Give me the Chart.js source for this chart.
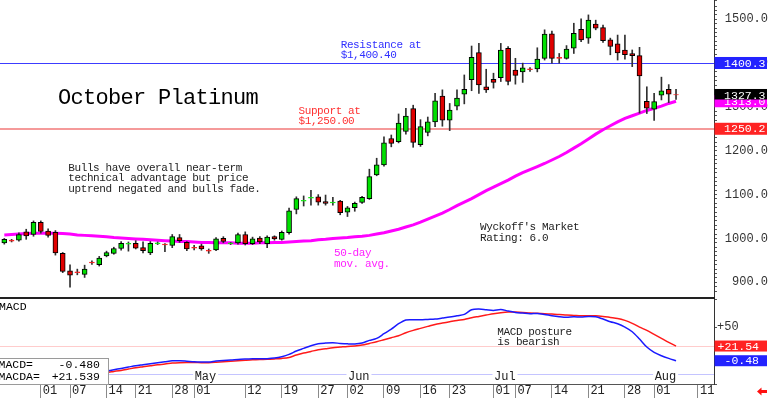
<!DOCTYPE html>
<html><head><meta charset="utf-8">
<script src="https://cdn.jsdelivr.net/npm/chart.js@4.4.1/dist/chart.umd.min.js"></script>
<style>
html,body{margin:0;padding:0;background:#fff;overflow:hidden;}
#wrap{position:relative;width:768px;height:398px;background:#fff;}
canvas{position:absolute;left:0;}
#cA{top:0;} #cB{top:297px;}
</style></head><body>
<div id="wrap"><canvas id="cA" width="768" height="297"></canvas><canvas id="cB" width="768" height="101"></canvas></div>
<script>
// ---------- DATA ----------
const dates = ['03-25','03-26','03-27','03-28','03-31','04-01','04-02','04-03','04-04','04-07','04-08','04-09','04-10','04-11','04-14','04-15','04-16','04-17','04-21','04-22','04-23','04-24','04-25','04-28','04-29','04-30','05-01','05-02','05-05','05-06','05-07','05-08','05-09','05-12','05-13','05-14','05-15','05-16','05-19','05-20','05-21','05-22','05-23','05-27','05-28','05-29','05-30','06-02','06-03','06-04','06-05','06-06','06-09','06-10','06-11','06-12','06-13','06-16','06-17','06-18','06-20','06-23','06-24','06-25','06-26','06-27','06-30','07-01','07-02','07-03','07-07','07-08','07-09','07-10','07-11','07-14','07-15','07-16','07-17','07-18','07-21','07-22','07-23','07-24','07-25','07-28','07-29','07-30','07-31','08-01','08-04','08-05','08-06','08-07','08-08','08-11','08-12'];
const opens  = [990,996,996,1015,1009,1037,1017,1014,966,926,924,918,946,940,960,966,977,987,989,979,967,988,987,984,1002,991,980,983,973,974,1000,988,990,1009,988,1001,988,1004,998,1013,1066,1085,1092,1095,1084,1081,1085,1060,1070,1082,1091,1145,1168,1228,1221,1244,1296,1214,1242,1266,1325,1270,1302,1329,1362,1424,1346,1363,1367,1434,1384,1380,1387,1387,1411,1467,1413,1411,1434,1477,1457,1489,1481,1453,1444,1430,1422,1417,1313,1295,1327,1340,1328];
const highs  = [1000,998,1013,1021,1040,1040,1022,1018,968,940,930,939,949,959,971,980,993,992,995,992,993,992,988,1009,1009,993,984,987,976,1002,1004,991,1012,1015,1003,1004,1006,1006,1017,1069,1095,1097,1110,1100,1099,1094,1087,1073,1083,1096,1158,1183,1232,1236,1284,1297,1304,1271,1277,1331,1339,1308,1339,1373,1439,1445,1386,1377,1445,1438,1411,1400,1390,1435,1476,1473,1422,1440,1491,1501,1510,1498,1487,1457,1464,1464,1430,1436,1346,1331,1368,1351,1340];
const lows   = [987,992,994,998,1005,1012,1003,962,922,889,917,911,941,937,958,964,973,971,976,967,963,986,970,979,991,972,974,973,966,972,990,986,987,985,986,988,979,996,996,1010,1056,1074,1076,1076,1076,1076,1054,1050,1062,1080,1089,1143,1165,1209,1218,1238,1208,1210,1234,1255,1256,1246,1293,1307,1337,1331,1333,1343,1358,1350,1352,1356,1381,1380,1407,1400,1400,1409,1422,1449,1445,1476,1447,1419,1407,1409,1392,1286,1285,1269,1316,1310,1317];
const closes = [998,994,1009,1006,1037,1016,1007,967,925,916,922,930,944,955,968,977,989,989,978,972,989,990,985,1004,995,976,978,976,971,999,993,990,1009,988,999,992,1003,999,1014,1063,1091,1087,1094,1083,1080,1083,1059,1070,1080,1094,1141,1168,1218,1217,1263,1279,1219,1255,1266,1314,1270,1293,1320,1340,1413,1350,1339,1356,1430,1358,1372,1389,1385,1409,1466,1411,1411,1432,1468,1453,1498,1480,1451,1438,1423,1419,1417,1371,1297,1312,1337,1329,1327.3];
const ma50   = [1008,1009,1010,1011,1012,1012,1012,1012,1011,1010,1008,1007,1006,1005,1004,1002,1001,1000,999,998,997,996,995,994,993,993,992,991,991,990,990,990,989,989,989,990,990,991,991,992,993,994,995,997,998,1000,1001,1002,1004,1005,1007,1010,1013,1017,1021,1026,1031,1037,1044,1051,1058,1066,1075,1083,1091,1100,1109,1117,1125,1133,1142,1150,1157,1164,1171,1179,1187,1196,1206,1216,1227,1238,1248,1257,1266,1274,1280,1286,1292,1297,1302,1308,1313];
const macdStart = 13;
const macd   = [-18,-16,-14,-12,-10,-8,-6.5,-5,-3.5,-2,-0.5,-0.5,-1.2,-2,-2.4,-2.5,-1,0,0.5,1.5,2,2.3,2.5,2.6,3.5,5.6,9,14,18,22,25,26,26.5,25.5,24.8,24.6,26,30,33,40,47,55,60.6,61,61,61.5,62,63.5,65,67,69,76,77,76,75,76.5,74,72,71,70,70.5,69,67,65.5,64.6,65.5,65,66,65.5,62,58,55,50,43,32,20,12,7,3,-0.48];
const signal = [-20,-18,-16.5,-15,-13,-11,-9.5,-8,-6.5,-5.5,-4,-3.4,-3.2,-3.2,-3.4,-3.4,-2.8,-2,-1.2,-0.5,0.3,1,1.4,1.6,2.2,3,4.5,8,11,13.5,16,17.5,19,20,21,21.6,23,25.5,28,31,34,37,41.5,45,48,51,54,56,58,60,61.5,64,66,68,70,71.5,72.5,72.5,72,71,70.6,70,69.5,69,68,67.5,67,67,67,66,64.5,63,60,55.6,50,45,39,33,27,21.539];
const tickDates  = ['04-01','04-07','04-14','04-21','04-28','05-01','05-12','05-19','05-27','06-02','06-09','06-16','06-23','07-01','07-07','07-14','07-21','07-28','08-01','08-11'];
const tickLabels = ['01','07','14','21','28','01','12','19','27','02','09','16','23','01','07','14','21','28','01','11'];
const monthDates  = ['05-01','06-02','07-01','08-01'];
const monthLabels = ['May','Jun','Jul','Aug'];
const resistance = 1400.40, support = 1250.00;
const resistanceTag = 1400.3, supportTag = 1250.2;

// ---------- helpers ----------
const mono = '"Liberation Mono","DejaVu Sans Mono",monospace';
const tickIdx = tickDates.map(d => dates.indexOf(d));
const labelFor = {}; tickIdx.forEach((v, k) => { labelFor[v] = tickLabels[k]; });
const monthIdx = monthDates.map(d => dates.indexOf(d));
const X_MIN = -0.59, X_MAX = 97.2;
const upCol = '#00e000', dnCol = '#e00000';
const bodyFill = opens.map((o, i) => closes[i] >= o ? upCol : dnCol);
const bodyBorder = opens.map((o, i) => Math.abs(closes[i] - o) <= 3 ? (closes[i] >= o ? '#10f010' : '#ff2020') : '#000');
const dojiFill = opens.map((o, i) => Math.abs(closes[i] - o) <= 3 ? (closes[i] >= o ? '#10f010' : '#ff2020') : bodyFill[i]);

function txt(ctx, s, x, y, size, color, ls, align, base) {
  ctx.save();
  ctx.font = size + 'px ' + mono;
  ctx.fillStyle = color;
  ctx.textAlign = align || 'left';
  ctx.textBaseline = base || 'alphabetic';
  if ('letterSpacing' in ctx) ctx.letterSpacing = (ls || 0) + 'px';
  ctx.fillText(s, x, y);
  ctx.restore();
}
function hline(ctx, y, x0, x1, color, w) {
  ctx.save(); ctx.strokeStyle = color; ctx.lineWidth = w;
  ctx.beginPath(); ctx.moveTo(x0, y); ctx.lineTo(x1, y); ctx.stroke(); ctx.restore();
}
function tag(ctx, py, s, bg, up, down, textRight) {
  ctx.save();
  ctx.fillStyle = bg;
  ctx.fillRect(714.5, py - up, 52.5, up + down);
  ctx.restore();
  txt(ctx, s, textRight, py + 0.5, 11.5, '#fff', 0, 'right', 'middle');
}

// ---------- price panel ----------
const annA = {
  id: 'annA',
  beforeDatasetsDraw(chart) {
    const ctx = chart.ctx, y = chart.scales.y, a = chart.chartArea;
    hline(ctx, Math.round(y.getPixelForValue(resistance)) + 0.5, a.left, a.right, '#3c3cff', 1);
    hline(ctx, Math.round(y.getPixelForValue(support)), a.left, a.right, '#f59a9a', 2);
  },
  afterDatasetsDraw(chart) {
    const ctx = chart.ctx;
    txt(ctx, 'October Platinum', 58, 104, 22, '#000', -0.7);
    txt(ctx, 'Resistance at', 340.7, 48.3, 11, '#3030ff', -0.4);
    txt(ctx, '$1,400.40', 340.7, 58.3, 11, '#3030ff', -0.4);
    txt(ctx, 'Support at', 298.5, 114, 11, '#ff3030', -0.4);
    txt(ctx, '$1,250.00', 298.5, 124, 11, '#ff3030', -0.4);
    txt(ctx, 'Bulls have overall near-term', 68.3, 170.7, 11, '#222', -0.4);
    txt(ctx, 'technical advantage but price', 68.3, 181.2, 11, '#222', -0.4);
    txt(ctx, 'uptrend negated and bulls fade.', 68.3, 191.7, 11, '#222', -0.4);
    txt(ctx, "Wyckoff's Market", 480, 230, 11, '#222', -0.4);
    txt(ctx, 'Rating: 6.0', 480, 240.5, 11, '#222', -0.4);
    txt(ctx, '50-day', 334, 256, 11, '#ff20ff', -0.4);
    txt(ctx, 'mov. avg.', 334, 266.5, 11, '#ff20ff', -0.4);
  },
  afterDraw(chart) {
    const ctx = chart.ctx, y = chart.scales.y;
    const last = closes.length - 1;
    tag(ctx, y.getPixelForValue(resistanceTag), resistanceTag.toFixed(1), '#2323ff', 6, 6, 765.5);
    tag(ctx, y.getPixelForValue(supportTag), supportTag.toFixed(1), '#ff2323', 6, 6, 765.5);
    tag(ctx, y.getPixelForValue(ma50[last]), ma50[last].toFixed(1), '#ff00ff', 6, 6, 765.5);
    tag(ctx, y.getPixelForValue(closes[last]), closes[last].toFixed(1), '#000', 6, 4.5, 765.5);
  }
};

new Chart(document.getElementById('cA'), {
  type: 'bar',
  data: { datasets: [
    { type: 'line', label: 'MA50', data: ma50.map((v, i) => ({ x: i, y: v })), borderColor: '#ff00ff', borderWidth: 3, pointRadius: 0, tension: 0, order: 3 },
    { label: 'wick', data: highs.map((h, i) => ({ x: i, y: [lows[i], h] })), backgroundColor: '#303030', barThickness: 1, grouped: false, order: 2 },
    { label: 'body', data: opens.map((o, i) => ({ x: i, y: [o, closes[i]] })), backgroundColor: dojiFill, borderColor: bodyBorder, borderWidth: 1, borderSkipped: false, barThickness: 5, grouped: false, order: 1 }
  ]},
  options: {
    responsive: false, animation: false, devicePixelRatio: 1, events: [],
    layout: { padding: 0 },
    plugins: { legend: { display: false }, tooltip: { enabled: false } },
    scales: {
      x: { type: 'linear', min: X_MIN, max: X_MAX, display: false, offset: false },
      y: { type: 'linear', position: 'right', min: 866.4, max: 1544,
        ticks: { stepSize: 10, autoSkip: false, crossAlign: 'far', padding: 6, color: '#333', font: { family: mono, size: 12 },
          callback: v => (Math.abs(v % 100) < 0.01 ? v.toFixed(1) : '') },
        grid: { drawOnChartArea: false, tickLength: 3, color: '#555' },
        border: { display: true, color: '#333' },
        afterFit: s => { s.width = 54; s.paddingTop = 0; s.paddingBottom = 0; }
      }
    }
  },
  plugins: [annA]
});

// ---------- MACD panel ----------
const annB = {
  id: 'annB',
  beforeDatasetsDraw(chart) {
    const ctx = chart.ctx, y = chart.scales.y, a = chart.chartArea;
    hline(ctx, Math.round(y.getPixelForValue(signal[signal.length - 1])) + 0.5, a.left, a.right, '#ffcccc', 1);
    hline(ctx, 77.5, 108, a.right, '#c4c4ff', 1);
  },
  afterDatasetsDraw(chart) {
    const ctx = chart.ctx, x = chart.scales.x;
    monthIdx.forEach((mi, k) => {
      const px = x.getPixelForValue(mi);
      ctx.save(); ctx.fillStyle = '#fff'; ctx.fillRect(px - 1, 71, 25, 13); ctx.restore();
      txt(ctx, monthLabels[k], px + 0.5, 83, 12, '#222', 0);
    });
    // legend box
    ctx.save(); ctx.fillStyle = '#fff'; ctx.fillRect(-1, 61, 109.5, 26);
    ctx.strokeStyle = '#9a9a9a'; ctx.lineWidth = 1; ctx.strokeRect(-1, 61.5, 109.5, 26); ctx.restore();
    txt(ctx, 'MACD=', -1.5, 71.3, 11.5, '#000', 0);
    txt(ctx, macd[macd.length - 1].toFixed(3), 100, 71.3, 11.5, '#000', 0, 'right');
    txt(ctx, 'MACDA=', -1.5, 83, 11.5, '#000', 0);
    txt(ctx, '+' + signal[signal.length - 1].toFixed(3), 100, 83, 11.5, '#000', 0, 'right');
    txt(ctx, 'MACD', -1, 13, 11.5, '#000', 0);
    txt(ctx, 'MACD posture', 497.3, 38, 11, '#222', -0.4);
    txt(ctx, 'is bearish', 497.3, 48, 11, '#222', -0.4);
  },
  afterDraw(chart) {
    const ctx = chart.ctx, y = chart.scales.y;
    ctx.save(); ctx.fillStyle = '#222'; ctx.fillRect(0, 0, 715, 2); ctx.restore();
    const s = signal[signal.length - 1], m = macd[macd.length - 1];
    tag(ctx, y.getPixelForValue(s), '+' + s.toFixed(2), '#ff2323', 5.5, 5.5, 759);
    tag(ctx, y.getPixelForValue(m), m.toFixed(2), '#2323ff', 5.5, 5.5, 759);
    // small red arrow at bottom right
    ctx.save(); ctx.fillStyle = '#ff1010';
    ctx.beginPath(); ctx.moveTo(757, 94.5); ctx.lineTo(761.5, 90.5); ctx.lineTo(761.5, 98.5); ctx.closePath(); ctx.fill();
    ctx.fillRect(761, 93, 6, 3); ctx.restore();
  }
};

new Chart(document.getElementById('cB'), {
  type: 'line',
  data: { datasets: [
    { label: 'MACD', data: macd.map((v, k) => ({ x: k + macdStart, y: v })), borderColor: '#1a1aff', borderWidth: 1.5, pointRadius: 0, tension: 0.3 },
    { label: 'MACDA', data: signal.map((v, k) => ({ x: k + macdStart, y: v })), borderColor: '#ff1a1a', borderWidth: 1.5, pointRadius: 0, tension: 0.3 }
  ]},
  options: {
    responsive: false, animation: false, devicePixelRatio: 1, events: [],
    layout: { padding: { top: 2, left: 0, right: 0, bottom: 0 } },
    plugins: { legend: { display: false }, tooltip: { enabled: false } },
    scales: {
      x: { type: 'linear', min: X_MIN, max: X_MAX, position: 'bottom', offset: false,
        afterBuildTicks: s => { s.ticks = tickIdx.map(v => ({ value: v })); },
        ticks: { autoSkip: false, maxRotation: 0, align: 'start', labelOffset: 2, padding: -14, color: '#222', font: { family: mono, size: 12 },
          callback: v => labelFor[v] || '' },
        grid: { drawOnChartArea: false, tickLength: 14, color: '#8a8a8a' },
        border: { display: true, color: '#555' },
        afterFit: s => { s.height = 14; s.paddingLeft = 0; s.paddingRight = 0; }
      },
      y: { type: 'linear', position: 'right', min: -35.4, max: 92.1,
        ticks: { stepSize: 25, autoSkip: false, padding: 0, color: '#333', font: { family: mono, size: 12 },
          callback: v => (v === 50 ? '+50' : '') },
        grid: { drawOnChartArea: false, tickLength: 3, color: '#555' },
        border: { display: true, color: '#333' },
        afterFit: s => { s.width = 54; s.paddingTop = 0; s.paddingBottom = 0; }
      }
    }
  },
  plugins: [annB]
});
</script>
</body></html>
